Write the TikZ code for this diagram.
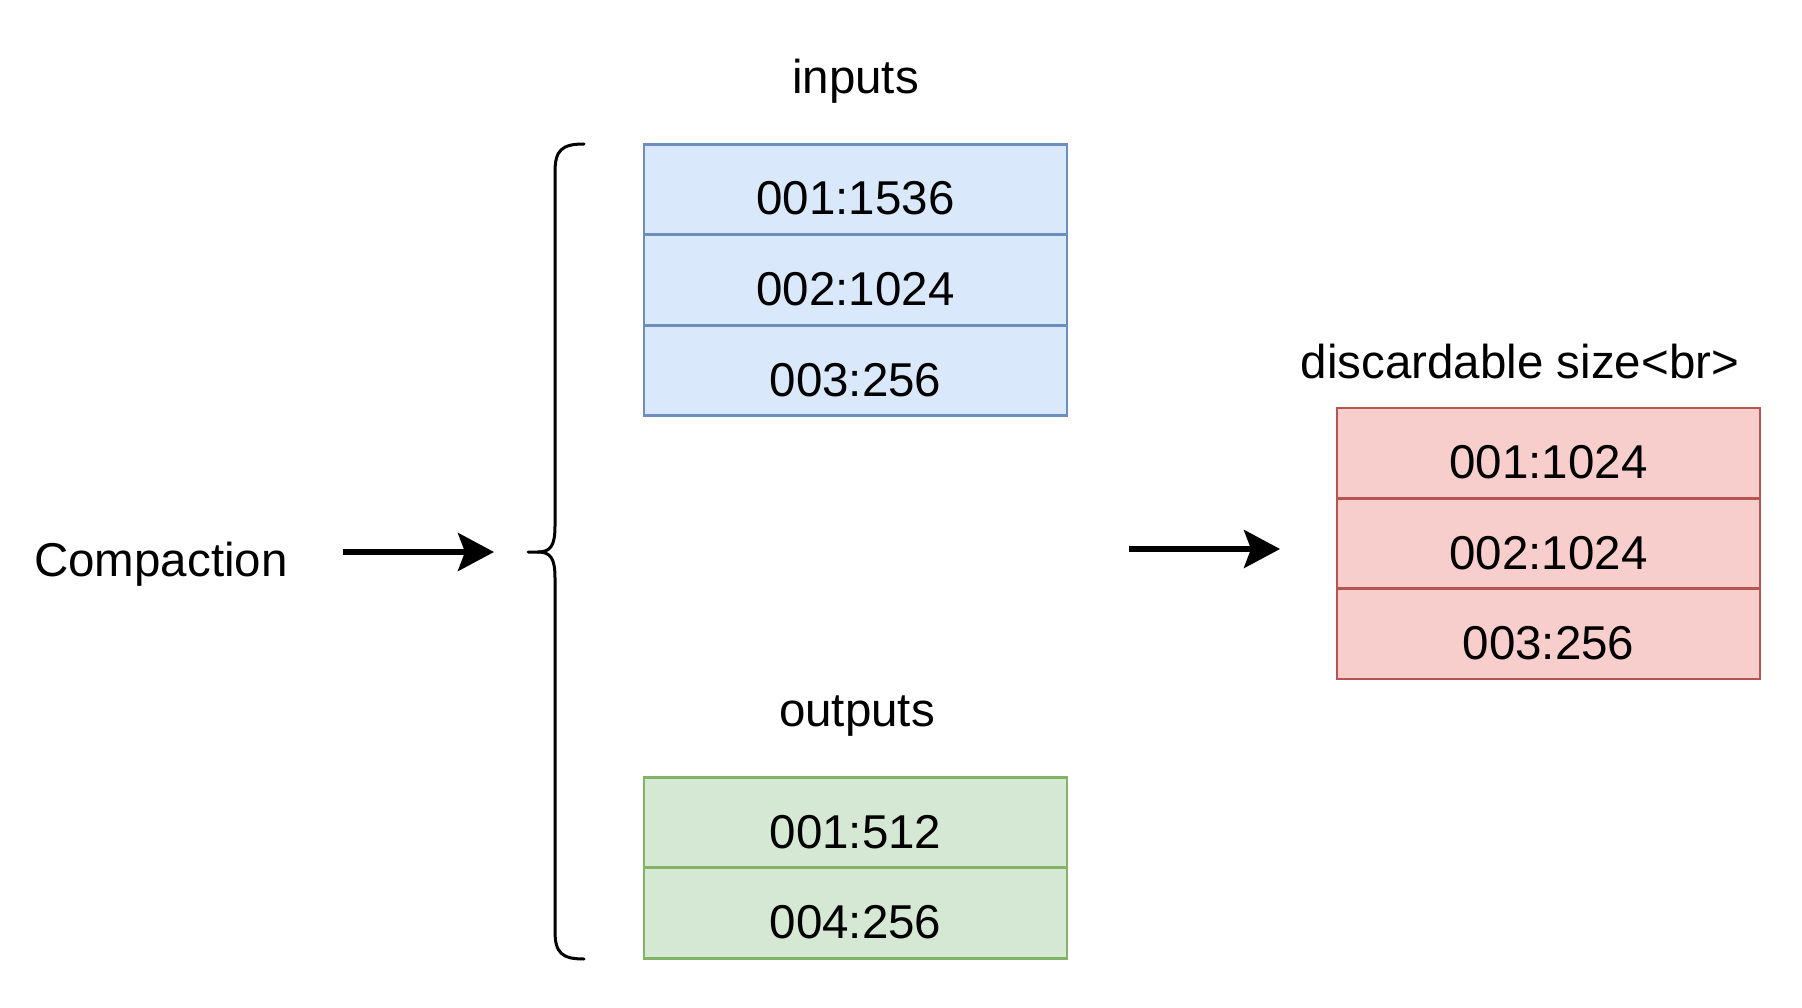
\documentclass[tikz,border=0pt]{standalone}
\usepackage{fontspec}
\setmainfont{Liberation Sans}
\usetikzlibrary{arrows.meta}
\definecolor{bluefill}{HTML}{DAE8FC}
\definecolor{bluedraw}{HTML}{6C8EBF}
\definecolor{greenfill}{HTML}{D5E8D4}
\definecolor{greendraw}{HTML}{82B366}
\definecolor{redfill}{HTML}{F8CECC}
\definecolor{reddraw}{HTML}{B85450}
\begin{document}
\begin{tikzpicture}[x=1pt,y=-1pt,
  cell/.style={draw, line width=2.6pt, minimum width=423pt, minimum height=90.5pt,
    inner sep=0pt, text height=51pt, text depth=0pt,
    font=\fontsize{47.5}{57}\selectfont},
  incell/.style={cell, fill=bluefill, draw=bluedraw},
  outcell/.style={cell, fill=greenfill, draw=greendraw},
  redcell/.style={cell, fill=redfill, draw=reddraw},
  lbl/.style={anchor=base, inner sep=0pt, font=\fontsize{47.5}{57}\selectfont},
  flow/.style={line width=5.5pt, -{Stealth[length=36pt,width=38pt,inset=7pt]}},
  bracestyle/.style={line width=3pt, line cap=round, line join=round}
]
\useasboundingbox (0,0) rectangle (1802,1008);

% labels
\node[lbl] (comp) at (161,576) {Compaction};
\node[lbl] (inlbl) at (855.5,94) {inputs};
\node[lbl] (outlbl) at (857,726) {outputs};
\node[lbl] (dislbl) at (1520,378) {discardable size<br>};

% inputs
\node[incell] (i1) at (855.5,189.5) {001:1536};
\node[incell] (i2) at (855.5,280) {002:1024};
\node[incell] (i3) at (855.5,370.5) {003:256};

% outputs
\node[outcell] (o1) at (855.5,822.5) {001:512};
\node[outcell] (o2) at (855.5,913) {004:256};

% discardable
\node[redcell] (r1) at (1548.5,453.2) {001:1024};
\node[redcell] (r2) at (1548.5,543.5) {002:1024};
\node[redcell] (r3) at (1548.5,633.8) {003:256};

% brace
\coordinate (btop) at (584,144);
\coordinate (btip) at (528,552);
\coordinate (bbot) at (584,959);
\draw[bracestyle] (btop) .. controls (562,144) and (555,150) .. (555,172)
  -- (555,526) .. controls (555,545) and (551,552) .. (538,552) -- (btip);
\draw[bracestyle] (bbot) .. controls (562,959) and (555,953) .. (555,931)
  -- (555,578) .. controls (555,559) and (551,552) .. (538,552);

% arrows
\coordinate (a1s) at (343,552);
\coordinate (a1e) at (494,552);
\coordinate (a2s) at (1129,549);
\coordinate (a2e) at (1280,549);
\draw[flow] (a1s) -- (a1e);
\draw[flow] (a2s) -- (a2e);
\end{tikzpicture}
\end{document}
